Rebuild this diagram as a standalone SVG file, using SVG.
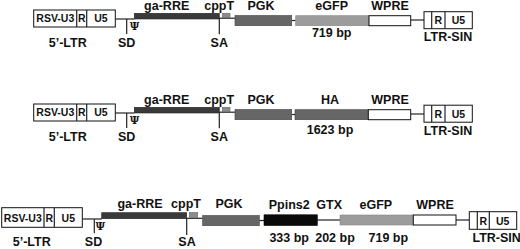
<svg xmlns="http://www.w3.org/2000/svg" width="520" height="249" viewBox="0 0 520 249">
<style>
text{font-family:"Liberation Sans",Arial,sans-serif;font-weight:bold;fill:#111;text-anchor:middle}
.lab{font-size:12.5px}
.in{font-size:10.5px}
.psi{font-family:"DejaVu Serif",serif;font-size:10.5px}
.box{fill:#fff;stroke:#111;stroke-width:1}
.ln{stroke:#222;stroke-width:1.2;fill:none}
.gag{fill:#3a3a3a;stroke:#222;stroke-width:0.6}
.ppt{fill:#8c8c8c;stroke:#666;stroke-width:0.6}
.pgk{fill:#666;stroke:#444;stroke-width:0.6}
.gfp{fill:#9c9c9c;stroke:#888;stroke-width:0.6}
.ha{fill:#666;stroke:#444;stroke-width:0.6}
.pin{fill:#0a0a0a;stroke:#000;stroke-width:0.6}
</style>
<rect width="520" height="249" fill="#fff"/>

<!-- connectors (backbone lines and ticks) -->
<g id="connectors">
  <!-- row 1 -->
  <line class="ln" x1="115.3" y1="19" x2="134.3" y2="19"/>
  <line class="ln" x1="126.7" y1="19" x2="126.7" y2="34"/>
  <line class="ln" x1="219" y1="18.2" x2="235" y2="18.2"/>
  <line class="ln" x1="219.3" y1="18.5" x2="219.3" y2="34.3"/>
  <line class="ln" x1="291.7" y1="20.5" x2="295.7" y2="20.5"/>
  <line class="ln" x1="410.7" y1="20" x2="424" y2="20"/>
  <!-- row 2 -->
  <line class="ln" x1="115.3" y1="113" x2="134.3" y2="113"/>
  <line class="ln" x1="126.7" y1="113" x2="126.7" y2="128"/>
  <line class="ln" x1="219" y1="112.2" x2="235" y2="112.2"/>
  <line class="ln" x1="219.3" y1="112.5" x2="219.3" y2="128.3"/>
  <line class="ln" x1="291.7" y1="114.5" x2="295" y2="114.5"/>
  <line class="ln" x1="410.7" y1="114" x2="424" y2="114"/>
  <!-- row 3 -->
  <line class="ln" x1="82.3" y1="219" x2="101.7" y2="219"/>
  <line class="ln" x1="94.3" y1="219" x2="94.3" y2="233.3"/>
  <line class="ln" x1="186.5" y1="218.3" x2="202.7" y2="218.3"/>
  <line class="ln" x1="186.7" y1="218.5" x2="186.7" y2="235"/>
  <line class="ln" x1="259.3" y1="220.5" x2="264" y2="220.5"/>
  <line class="ln" x1="317.3" y1="220" x2="340" y2="220"/>
  <line class="ln" x1="456" y1="220" x2="469.3" y2="220"/>
</g>

<!-- ===== Row 1 ===== -->
<g id="r1-ltr5">
  <rect class="box" x="33.7" y="10" width="81.6" height="17"/>
  <line class="ln" x1="76.7" y1="10" x2="76.7" y2="27"/>
  <line class="ln" x1="86.7" y1="10" x2="86.7" y2="27"/>
  <text class="in" x="55.3" y="22.3">RSV-U3</text>
  <text class="in" x="81.7" y="22.3">R</text>
  <text class="in" x="101" y="22.3">U5</text>
  <text class="lab" x="67.7" y="46.5">5’-LTR</text>
</g>
<g id="r1-sd">
  <text class="psi" x="134.5" y="30">Ψ</text>
  <text class="lab" x="126.7" y="46.5">SD</text>
</g>
<g id="r1-garre">
  <rect class="gag" x="134.3" y="13.3" width="85" height="5.7"/>
  <text class="lab" x="166.7" y="10">ga-RRE</text>
</g>
<g id="r1-cppt">
  <rect class="ppt" x="222.3" y="13.3" width="7.7" height="4.4"/>
  <text class="lab" x="219.2" y="10">cppT</text>
</g>
<g id="r1-sa"><text class="lab" x="219.3" y="46.5">SA</text></g>
<g id="r1-pgk">
  <rect class="pgk" x="235" y="15.5" width="56.7" height="10.2"/>
  <text class="lab" x="261" y="10">PGK</text>
</g>
<g id="r1-egfp">
  <rect class="gfp" x="295.7" y="15.7" width="73.3" height="10"/>
  <text class="lab" x="331.7" y="9.5">eGFP</text>
  <text class="lab" x="331.7" y="37.3">719 bp</text>
</g>
<g id="r1-wpre">
  <rect class="box" x="369" y="15.7" width="41.7" height="10"/>
  <text class="lab" x="390" y="9.5">WPRE</text>
</g>
<g id="r1-ltrsin">
  <rect class="box" x="424" y="11.7" width="48.3" height="17"/>
  <line class="ln" x1="431.7" y1="11.7" x2="431.7" y2="28.7"/>
  <line class="ln" x1="445" y1="11.7" x2="445" y2="28.7"/>
  <text class="in" x="438.3" y="24">R</text>
  <text class="in" x="458.5" y="24">U5</text>
  <text class="lab" x="448" y="40.7">LTR-SIN</text>
</g>

<!-- ===== Row 2 ===== -->
<g id="r2-ltr5">
  <rect class="box" x="33.7" y="104" width="81.6" height="17"/>
  <line class="ln" x1="76.7" y1="104" x2="76.7" y2="121"/>
  <line class="ln" x1="86.7" y1="104" x2="86.7" y2="121"/>
  <text class="in" x="55.3" y="116.3">RSV-U3</text>
  <text class="in" x="81.7" y="116.3">R</text>
  <text class="in" x="101" y="116.3">U5</text>
  <text class="lab" x="67.7" y="140.7">5’-LTR</text>
</g>
<g id="r2-sd">
  <text class="psi" x="134.5" y="124">Ψ</text>
  <text class="lab" x="126.7" y="140.7">SD</text>
</g>
<g id="r2-garre">
  <rect class="gag" x="134.3" y="107.3" width="85" height="5.7"/>
  <text class="lab" x="166.7" y="104">ga-RRE</text>
</g>
<g id="r2-cppt">
  <rect class="ppt" x="222.3" y="107.3" width="7.7" height="4.4"/>
  <text class="lab" x="219.2" y="104">cppT</text>
</g>
<g id="r2-sa"><text class="lab" x="219.3" y="140.7">SA</text></g>
<g id="r2-pgk">
  <rect class="pgk" x="235" y="109.5" width="56.7" height="10.2"/>
  <text class="lab" x="261" y="104">PGK</text>
</g>
<g id="r2-ha">
  <rect class="ha" x="295" y="109.7" width="73.3" height="10"/>
  <text class="lab" x="330" y="103.7">HA</text>
  <text class="lab" x="330" y="134">1623 bp</text>
</g>
<g id="r2-wpre">
  <rect class="box" x="368.3" y="109.7" width="42.4" height="10"/>
  <text class="lab" x="390" y="103.5">WPRE</text>
</g>
<g id="r2-ltrsin">
  <rect class="box" x="424" y="105.2" width="48.3" height="17"/>
  <line class="ln" x1="431.7" y1="105.2" x2="431.7" y2="122.2"/>
  <line class="ln" x1="445" y1="105.2" x2="445" y2="122.2"/>
  <text class="in" x="438.3" y="117.5">R</text>
  <text class="in" x="458.5" y="117.5">U5</text>
  <text class="lab" x="448" y="135">LTR-SIN</text>
</g>

<!-- ===== Row 3 ===== -->
<g id="r3-ltr5">
  <rect class="box" x="1.7" y="207.7" width="80.6" height="19.6"/>
  <line class="ln" x1="44" y1="207.7" x2="44" y2="227.3"/>
  <line class="ln" x1="54.3" y1="207.7" x2="54.3" y2="227.3"/>
  <text class="in" x="22.8" y="221.8">RSV-U3</text>
  <text class="in" x="49.2" y="221.8">R</text>
  <text class="in" x="68.3" y="221.8">U5</text>
  <text class="lab" x="31.7" y="246">5’-LTR</text>
</g>
<g id="r3-sd">
  <text class="psi" x="100.3" y="230.2">Ψ</text>
  <text class="lab" x="93.5" y="246">SD</text>
</g>
<g id="r3-garre">
  <rect class="gag" x="101.7" y="212.7" width="85" height="6"/>
  <text class="lab" x="140" y="207.7">ga-RRE</text>
</g>
<g id="r3-cppt">
  <rect class="ppt" x="189.3" y="212.5" width="8.4" height="4.8"/>
  <text class="lab" x="186" y="207.5">cppT</text>
</g>
<g id="r3-sa"><text class="lab" x="187" y="246">SA</text></g>
<g id="r3-pgk">
  <rect class="pgk" x="202.7" y="215.5" width="56.6" height="10.2"/>
  <text class="lab" x="229" y="207.7">PGK</text>
</g>
<g id="r3-ppins2">
  <rect class="pin" x="264" y="214.8" width="53.3" height="10.7"/>
  <text class="lab" x="289.2" y="209.3">Ppins2</text>
  <text class="lab" x="289.2" y="241.7">333 bp</text>
</g>
<g id="r3-gtx">
  <text class="lab" x="329.2" y="209.3">GTX</text>
  <text class="lab" x="335" y="241.7">202 bp</text>
</g>
<g id="r3-egfp">
  <rect class="gfp" x="340" y="215" width="73.3" height="10"/>
  <text class="lab" x="375.8" y="209.3">eGFP</text>
  <text class="lab" x="388.3" y="241.7">719 bp</text>
</g>
<g id="r3-wpre">
  <rect class="box" x="413.3" y="215" width="42.7" height="10"/>
  <text class="lab" x="435" y="209.3">WPRE</text>
</g>
<g id="r3-ltrsin">
  <rect class="box" x="469.3" y="211.7" width="47.4" height="17.6"/>
  <line class="ln" x1="477.3" y1="211.7" x2="477.3" y2="229.3"/>
  <line class="ln" x1="489.3" y1="211.7" x2="489.3" y2="229.3"/>
  <text class="in" x="483.3" y="224.5">R</text>
  <text class="in" x="502.7" y="224.5">U5</text>
  <text class="lab" x="496.7" y="241.7">LTR-SIN</text>
</g>
</svg>
